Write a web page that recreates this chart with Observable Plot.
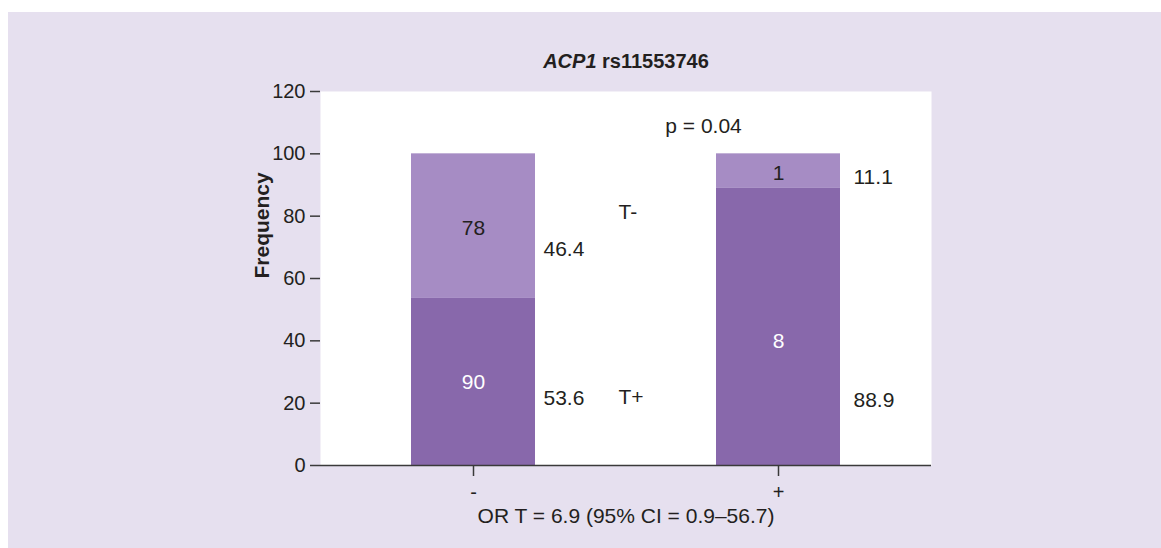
<!DOCTYPE html>
<html>
<head>
<meta charset="utf-8">
<script src="https://cdn.jsdelivr.net/npm/d3@7"></script>
<script src="https://cdn.jsdelivr.net/npm/@observablehq/plot@0.6"></script>
<style>
  html, body { margin: 0; padding: 0; background: #ffffff; }
  #panel { position: absolute; left: 8px; top: 12px; width: 1153px; height: 536px; background: #e6e0ef; }
  #panel svg { display: block; }
</style>
</head>
<body>
<div id="panel"></div>
<script>
// ---- data ----
const groups = ["-", "+"];
const seriesNames = ["T+", "T-"];
const tPlusPct = [53.6, 88.9];
const tMinusPct = [46.4, 11.1];
const tPlusN = [90, 8];
const tMinusN = [78, 1];
const yTicks = [0, 20, 40, 60, 80, 100, 120];
const titleItalic = "ACP1";
const titleRest = "rs11553746";
const yLabel = "Frequency";
const xLabel = "OR T = 6.9 (95% CI = 0.9–56.7)";
const pText = "p = 0.04";

// ---- build stacked rows ----
const rows = [];
groups.forEach((g, i) => {
  rows.push({group: g, series: "T+", pct: tPlusPct[i], n: tPlusN[i], lo: 0, hi: tPlusPct[i]});
  rows.push({group: g, series: "T-", pct: tMinusPct[i], n: tMinusN[i], lo: tPlusPct[i], hi: tPlusPct[i] + tMinusPct[i]});
});
const mid = d => (d.lo + d.hi) / 2;
const pick = (g, s) => rows.filter(d => d.group === g && d.series === s);

const dark = "#8868ab", light = "#a68cc4", ink = "#231f20", axisCol = "#3a3a3a";
const font = "'Liberation Sans', Arial, Helvetica, sans-serif";

const chart = Plot.plot({
  width: 1153,
  height: 536,
  marginLeft: 312,
  marginRight: 230,
  marginTop: 79,
  marginBottom: 83,
  style: {background: "transparent", fontFamily: font, fontSize: "20px", color: ink},
  x: {type: "band", domain: groups, paddingInner: 0.593, paddingOuter: 0.296, label: null},
  y: {domain: [0, 120], label: null},
  color: {domain: seriesNames, range: [dark, light]},
  marks: [
    Plot.frame({fill: "white", stroke: null}),
    Plot.barY(rows, {x: "group", y1: "lo", y2: "hi", fill: "series"}),
    // count labels inside bars
    Plot.text(pick("-", "T+"), {x: "group", y: mid, text: "n", fill: "white", fontSize: 21}),
    Plot.text(pick("+", "T+"), {x: "group", y: mid, text: "n", fill: "white", fontSize: 21, dy: 14}),
    Plot.text(rows.filter(d => d.series === "T-"), {x: "group", y: mid, text: "n", fill: ink, fontSize: 21, dy: 2}),
    // percentage labels to the right of bars
    Plot.text(pick("-", "T-"), {x: "group", y: mid, dy: 23, dx: 70, text: d => d.pct.toFixed(1), textAnchor: "start", fill: ink, fontSize: 21}),
    Plot.text(pick("+", "T-"), {x: "group", y: mid, dy: 6, dx: 75, text: d => d.pct.toFixed(1), textAnchor: "start", fill: ink, fontSize: 21}),
    Plot.text(pick("-", "T+"), {x: "group", y: 21.5, dx: 70, text: d => d.pct.toFixed(1), textAnchor: "start", fill: ink, fontSize: 21}),
    Plot.text(pick("+", "T+"), {x: "group", y: 20.9, dx: 75, text: d => d.pct.toFixed(1), textAnchor: "start", fill: ink, fontSize: 21}),
    // series labels between bars
    Plot.text(["T-"], {x: () => "-", y: 81.2, dx: 145, text: d => d, textAnchor: "start", fill: ink, fontSize: 21}),
    Plot.text(["T+"], {x: () => "-", y: 21.8, dx: 145, text: d => d, textAnchor: "start", fill: ink, fontSize: 21}),
    // p value
    Plot.text([pText], {x: () => "+", frameAnchor: "top", dy: 27, dx: -75, text: d => d, fill: ink, fontSize: 21}),
    // title
    Plot.text([titleItalic + " " + titleRest], {frameAnchor: "top", dy: -38, text: d => d, fontWeight: "bold", fill: ink, fontSize: 20}),
    // axis titles
    Plot.text([yLabel], {frameAnchor: "left", dx: -58, rotate: -90, text: d => d, fontWeight: "bold", fill: ink, fontSize: 21}),
    Plot.text([xLabel], {frameAnchor: "bottom", dy: 57, text: d => d, fill: ink, fontSize: 21}),
    // axes
    Plot.axisY({ticks: yTicks, tickSize: 10, tickPadding: 5, label: null, line: true, stroke: axisCol, strokeWidth: 1.5, fill: ink}),
    Plot.axisX({tickSize: 11, tickPadding: 8, label: null, stroke: axisCol, strokeWidth: 1.5, fill: ink}),
    Plot.ruleY([0], {stroke: axisCol, strokeWidth: 1.5})
  ]
});

document.getElementById("panel").appendChild(chart);

// mixed italic/bold title
d3.select(chart).selectAll("text").each(function() {
  const t = d3.select(this);
  if (t.text() === titleItalic + " " + titleRest) {
    t.text(null);
    t.append("tspan").attr("font-style", "italic").text(titleItalic);
    t.append("tspan").text(" " + titleRest);
  }
});
</script>
</body>
</html>
